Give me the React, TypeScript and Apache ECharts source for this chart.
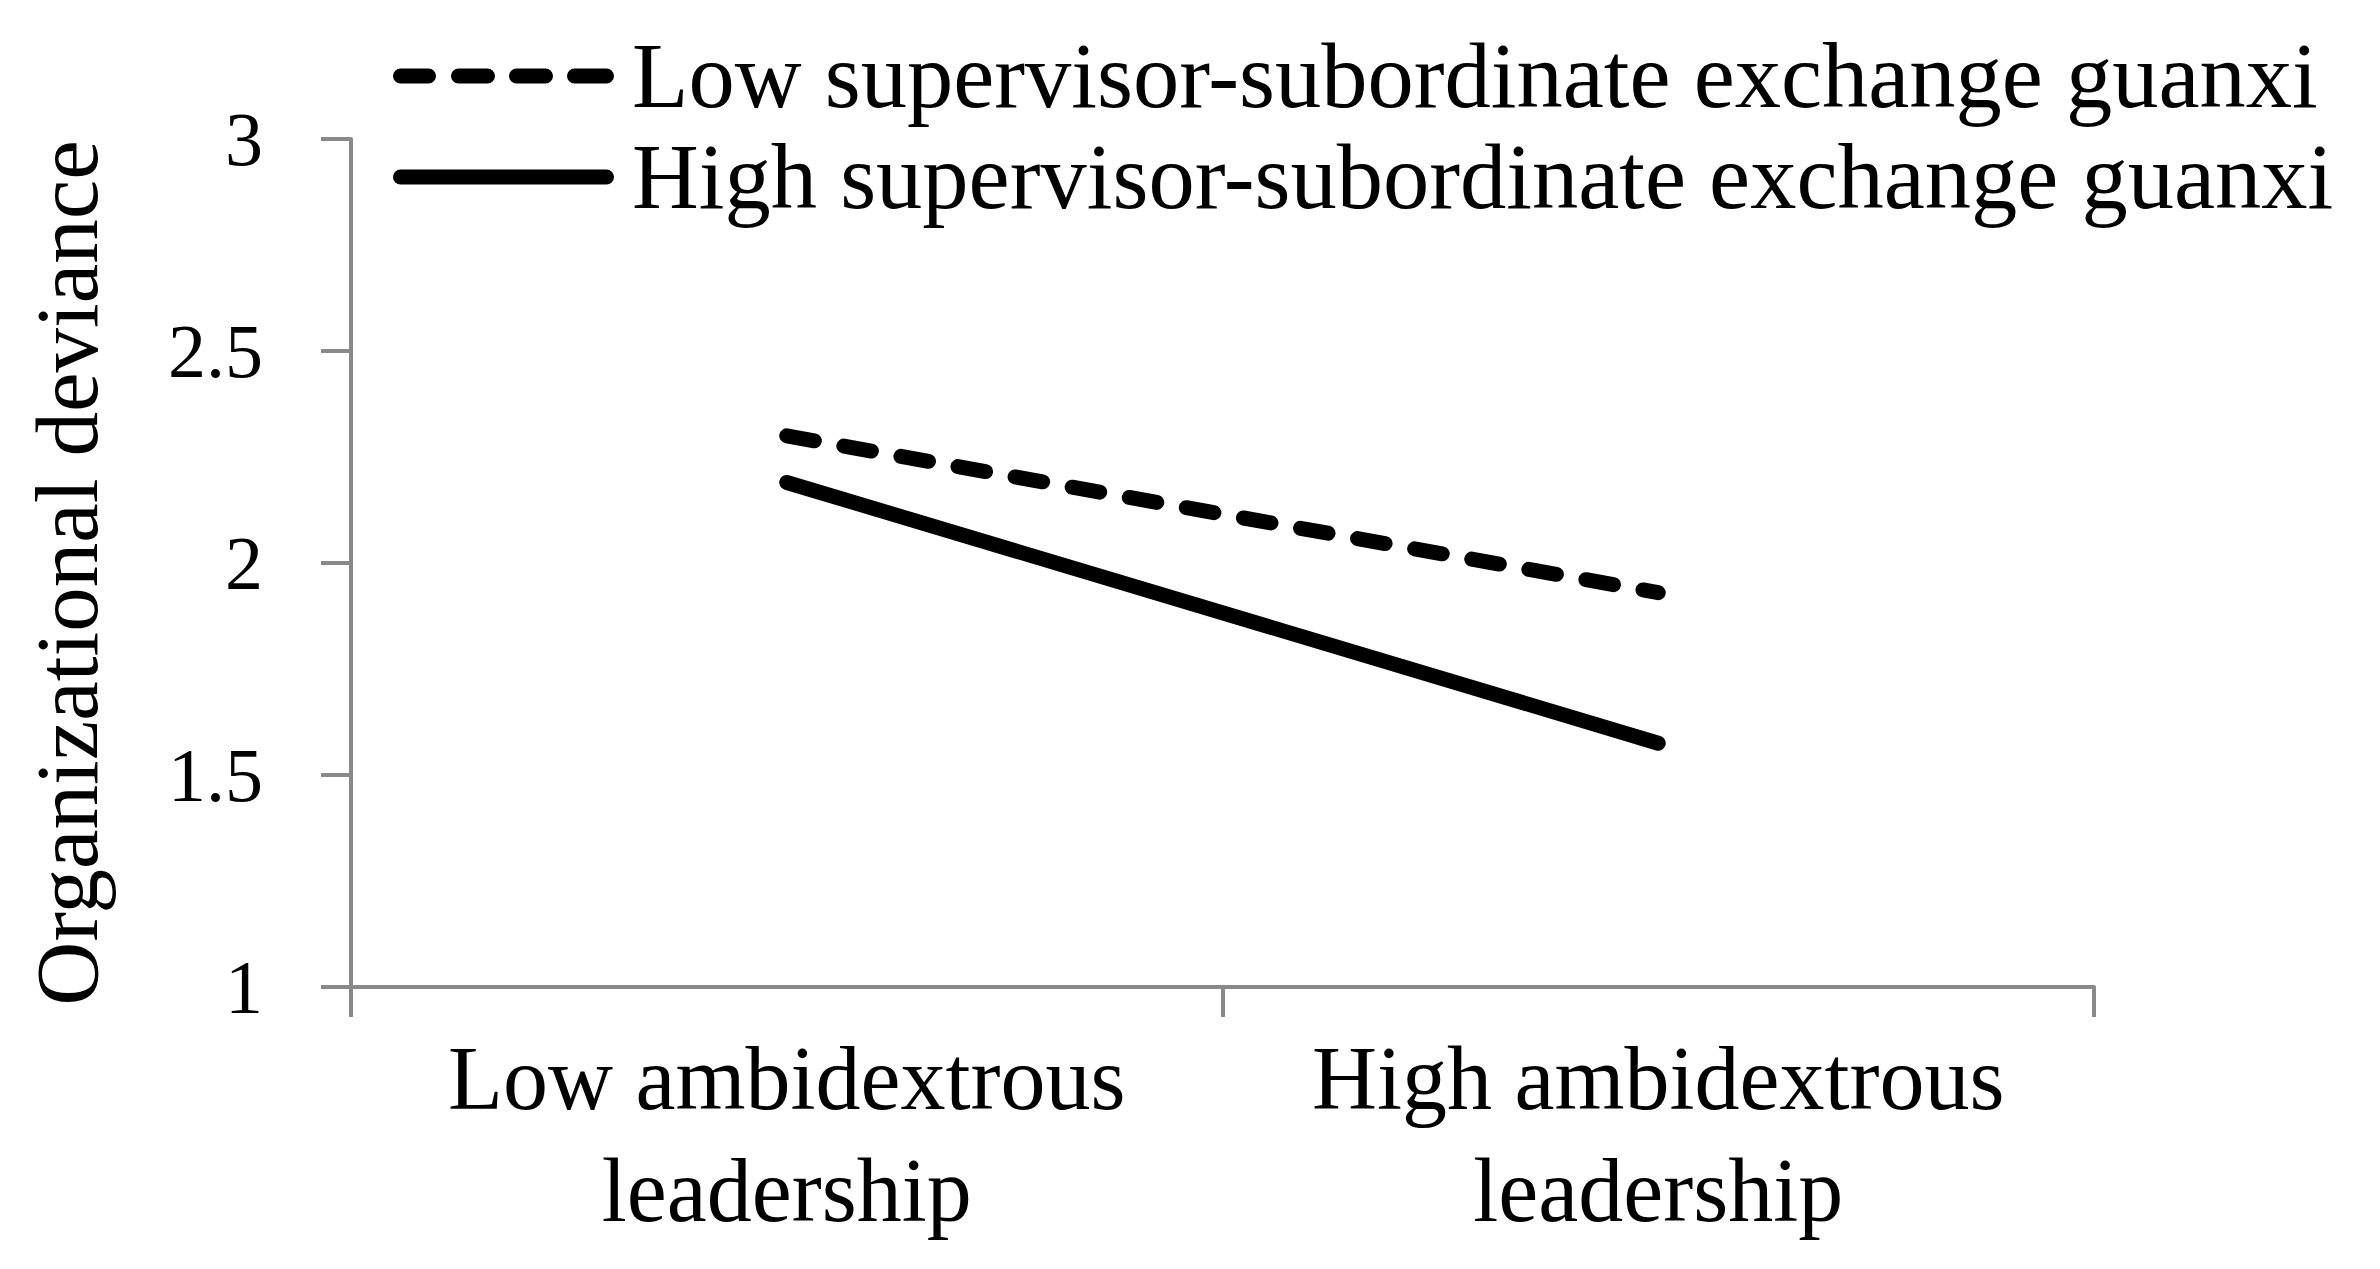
import React, { useEffect, useRef } from "react";
import * as echarts from "echarts";

const categories = ["Low ambidextrous\nleadership", "High ambidextrous\nleadership"];
const seriesNames = [
  "Low supervisor-subordinate exchange guanxi",
  "High supervisor-subordinate exchange guanxi",
];
const lowGuanxi = [2.3, 1.93];
const highGuanxi = [2.19, 1.575];
const yMin = 1;
const yMax = 3;
const yStep = 0.5;
const yTitle = "Organizational deviance";

const FONT = "'Liberation Serif', 'DejaVu Serif', serif";
const AXIS_GRAY = "#898989";

function capsule(x0: number, x1: number) {
  return `M${x0 + 7.5},0 H${x1 - 7.5} A7.5,7.5 0 0 1 ${x1 - 7.5},15 H${x0 + 7.5} A7.5,7.5 0 0 1 ${x0 + 7.5},0 Z`;
}
const dashedIcon = "path://" + [[0, 43], [58, 102], [116, 160], [174, 221]].map(([a, b]) => capsule(a, b)).join(" ");
const solidIcon = "path://" + capsule(0, 221);

export default function App() {
  const ref = useRef<HTMLDivElement>(null);
  useEffect(() => {
    if (!ref.current) return;
    const chart = echarts.init(ref.current, undefined, { renderer: "svg" });
    chart.setOption({
      animation: false,
      backgroundColor: "#ffffff",
      textStyle: { fontFamily: FONT, color: "#000" },
      grid: { left: 351, right: 286, top: 139, bottom: 282, containLabel: false },
      legend: {
        orient: "vertical",
        left: 388,
        top: 23,
        itemWidth: 221,
        itemHeight: 15,
        itemGap: 5,
        selectedMode: false,
        itemStyle: { color: "#000", borderWidth: 0 },
        textStyle: {
          fontFamily: FONT,
          fontSize: 92.5,
          lineHeight: 96,
          color: "#000",
          padding: [0, 0, 0, 13],
        },
        data: [
          { name: seriesNames[0], icon: dashedIcon },
          { name: seriesNames[1], icon: solidIcon },
        ],
      },
      xAxis: {
        type: "category",
        data: categories,
        boundaryGap: true,
        axisLine: { show: true, lineStyle: { color: AXIS_GRAY, width: 4 } },
        axisTick: { show: true, length: 30, inside: false, lineStyle: { color: AXIS_GRAY, width: 4 } },
        axisLabel: {
          fontFamily: FONT,
          fontSize: 90,
          lineHeight: 112,
          color: "#000",
          margin: 35,
          interval: 0,
        },
        splitLine: { show: false },
      },
      yAxis: {
        type: "value",
        min: yMin,
        max: yMax,
        interval: yStep,
        name: yTitle,
        nameLocation: "middle",
        nameGap: 240,
        nameTextStyle: { fontFamily: FONT, fontSize: 89, color: "#000", padding: [0, 20, 0, 0] },
        axisLine: { show: true, lineStyle: { color: AXIS_GRAY, width: 4 } },
        axisTick: { show: true, length: 30, inside: false, lineStyle: { color: AXIS_GRAY, width: 4 } },
        axisLabel: { fontFamily: FONT, fontSize: 76, color: "#000", margin: 88 },
        splitLine: { show: false },
      },
      series: [
        {
          name: seriesNames[0],
          type: "line",
          data: lowGuanxi,
          symbol: "none",
          lineStyle: { color: "#000", width: 15, type: [28, 30], cap: "round" },
          itemStyle: { color: "#000" },
        },
        {
          name: seriesNames[1],
          type: "line",
          data: highGuanxi,
          symbol: "none",
          lineStyle: { color: "#000", width: 15, type: "solid", cap: "round" },
          itemStyle: { color: "#000" },
        },
      ],
    });
    return () => chart.dispose();
  }, []);
  return (
    <div
      ref={ref}
      style={{ position: "fixed", left: 0, top: 0, width: 2380, height: 1269, background: "#fff" }}
    />
  );
}
